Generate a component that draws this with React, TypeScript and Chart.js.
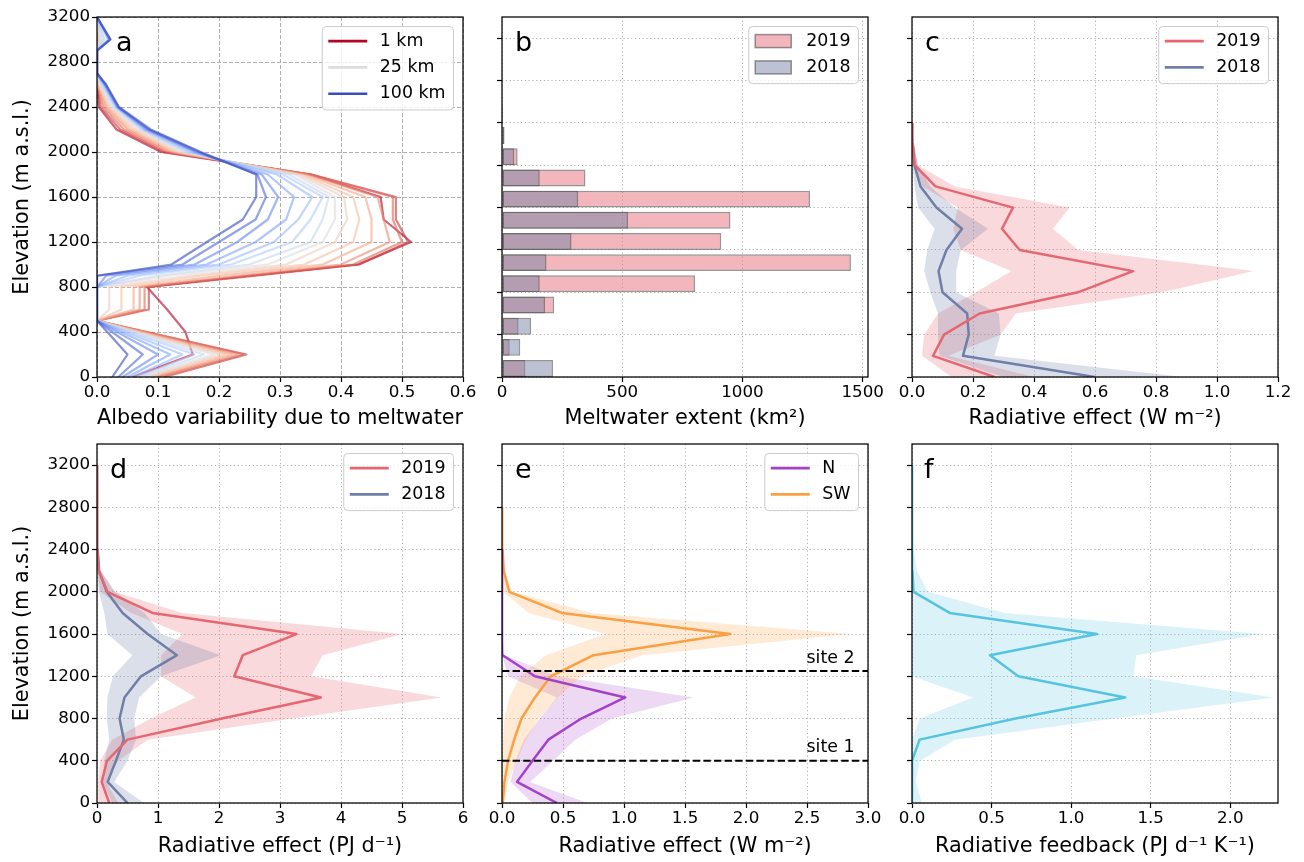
import React, { useEffect, useRef } from 'react';
import { Chart, registerables } from 'chart.js';

Chart.register(...registerables);

const FAMILY = "'DejaVu Sans', 'Liberation Sans', sans-serif";
const TICK_SIZE = 16.7;
const LABEL_SIZE = 20.8;
const LEGEND_SIZE = 17.4;
const LETTER_SIZE = 27;
Chart.defaults.font.family = FAMILY;
Chart.defaults.color = '#000';

// ================= DATA =================
// Panel a: albedo variability profiles for different spatial scales
const albedoElev = [0, 200, 400, 500, 600, 800, 900, 1000, 1200, 1400, 1600, 1800, 2000, 2200, 2400, 2600, 2700, 2800, 2900, 3000, 3200];
const albedoScalesKm = [1, 2, 3, 5, 7, 10, 15, 25, 30, 40, 50, 60, 70, 85, 100];
const albedo01 = [0.058, 0.157, 0.145, 0.13, 0.115, 0.082, 0.25, 0.428, 0.515, 0.47, 0.465, 0.35, 0.105, 0.032, 0.003, 0, 0, 0, 0, 0, 0];
const albedo02 = [0.11, 0.245, 0.082, 0, 0.085, 0.085, 0.26, 0.43, 0.51, 0.49, 0.49, 0.352, 0.11, 0.038, 0.006, 0, 0, 0, 0, 0, 0];
const albedo03 = [0.1, 0.24, 0.08, 0, 0.078, 0.078, 0.25, 0.42, 0.5, 0.485, 0.485, 0.35, 0.115, 0.044, 0.01, 0, 0, 0, 0, 0, 0];
const albedo05 = [0.095, 0.23, 0.077, 0, 0.07, 0.07, 0.23, 0.4, 0.48, 0.47, 0.46, 0.345, 0.12, 0.05, 0.014, 0, 0, 0, 0, 0, 0];
const albedo07 = [0.09, 0.22, 0.073, 0, 0.06, 0.06, 0.2, 0.37, 0.45, 0.45, 0.44, 0.34, 0.125, 0.055, 0.017, 0, 0, 0, 0, 0.002, 0];
const albedo10 = [0.085, 0.21, 0.07, 0, 0.04, 0.04, 0.17, 0.34, 0.42, 0.43, 0.42, 0.335, 0.13, 0.06, 0.02, 0.002, 0, 0, 0, 0.003, 0];
const albedo15 = [0.08, 0.2, 0.067, 0, 0.02, 0.02, 0.15, 0.31, 0.39, 0.41, 0.405, 0.33, 0.135, 0.065, 0.022, 0.004, 0, 0, 0, 0.004, 0];
const albedo25 = [0.075, 0.19, 0.063, 0, 0, 0, 0.12, 0.28, 0.37, 0.39, 0.39, 0.325, 0.14, 0.07, 0.025, 0.005, 0, 0, 0, 0.005, 0];
const albedo30 = [0.07, 0.175, 0.058, 0, 0, 0, 0.1, 0.25, 0.35, 0.37, 0.38, 0.315, 0.145, 0.072, 0.028, 0.007, 0, 0, 0, 0.008, 0];
const albedo40 = [0.065, 0.16, 0.053, 0, 0, 0, 0.07, 0.22, 0.32, 0.35, 0.37, 0.305, 0.15, 0.075, 0.03, 0.009, 0, 0, 0, 0.012, 0];
const albedo50 = [0.058, 0.14, 0.047, 0, 0, 0, 0.05, 0.2, 0.29, 0.33, 0.353, 0.295, 0.155, 0.078, 0.032, 0.011, 0, 0, 0, 0.018, 0];
const albedo60 = [0.05, 0.12, 0.04, 0, 0, 0, 0.03, 0.18, 0.26, 0.31, 0.323, 0.28, 0.16, 0.08, 0.033, 0.012, 0, 0, 0, 0.02, 0];
const albedo70 = [0.042, 0.1, 0.033, 0, 0, 0, 0.015, 0.16, 0.23, 0.28, 0.297, 0.27, 0.163, 0.083, 0.034, 0.013, 0, 0, 0, 0.021, 0];
const albedo85 = [0.035, 0.075, 0.025, 0, 0, 0, 0, 0.14, 0.2, 0.26, 0.277, 0.263, 0.167, 0.085, 0.035, 0.014, 0, 0, 0, 0.022, 0];
const albedo100 = [0.025, 0.05, 0.017, 0, 0, 0, 0, 0.122, 0.18, 0.239, 0.261, 0.261, 0.17, 0.088, 0.036, 0.015, 0, 0, 0, 0.022, 0];
const albedoProfiles = [albedo01, albedo02, albedo03, albedo05, albedo07, albedo10, albedo15, albedo25, albedo30, albedo40, albedo50, albedo60, albedo70, albedo85, albedo100];

// Panel b: meltwater extent (km2) per 200 m elevation bin (bin lower edge)
const meltBinStart = [0, 200, 400, 600, 800, 1000, 1200, 1400, 1600, 1800, 2000, 2200, 2400];
const melt2019 = [97, 32, 69, 217, 803, 1451, 912, 950, 1281, 347, 65, 10, 4];
const melt2018 = [212, 76, 121, 179, 157, 185, 289, 524, 317, 157, 51, 10, 4];
const meltBinWidth = 200;
const meltBarFraction = 0.8;

// Panels c-f: profiles
const elevProfile = [0, 200, 400, 600, 800, 1000, 1200, 1400, 1600, 1800, 2000, 2200, 2400, 2600, 2800, 3000, 3200];
// c: radiative effect (W m-2)
const reW2019 = [0.271, 0.069, 0.105, 0.222, 0.544, 0.725, 0.353, 0.295, 0.331, 0.077, 0.009, 0.003, 0.001, null, null, null, null];
const reW2019Lo = [0.13, 0.033, 0.04, 0.085, 0.21, 0.326, 0.16, 0.135, 0.15, 0.035, 0.003, 0, 0, 0, 0, 0, 0];
const reW2019Hi = [0.4, 0.12, 0.29, 0.34, 0.82, 1.12, 0.545, 0.462, 0.517, 0.14, 0.02, 0.006, 0.002, 0, 0, 0, 0];
const reW2018 = [0.599, 0.167, 0.186, 0.181, 0.1, 0.087, 0.113, 0.164, 0.08, 0.028, 0.008, 0.002, 0, null, null, null, null];
const reW2018Lo = [0.3, 0.09, 0.085, 0.085, 0.06, 0.04, 0.05, 0.074, 0.02, 0.008, 0.002, 0, 0, 0, 0, 0, 0];
const reW2018Hi = [0.89, 0.27, 0.29, 0.285, 0.145, 0.145, 0.16, 0.249, 0.14, 0.06, 0.02, 0.005, 0, 0, 0, 0, 0];
// d: radiative effect (PJ d-1)
const rePJ2019 = [0.2, 0.077, 0.164, 0.5, 2.05, 3.67, 2.25, 2.39, 3.27, 0.91, 0.17, 0.03, 0.01, 0.003, 0, 0, 0];
const rePJ2019Lo = [0.02, 0.02, 0.05, 0.25, 0.88, 1.62, 1.05, 1.05, 1.4, 0.56, 0.05, 0.01, 0, 0, 0, 0, 0];
const rePJ2019Hi = [0.35, 0.15, 0.35, 0.83, 3.2, 5.65, 3.51, 3.7, 5.0, 1.4, 0.28, 0.06, 0.02, 0.005, 0, 0, 0];
const rePJ2018 = [0.5, 0.175, 0.31, 0.44, 0.37, 0.45, 0.72, 1.31, 0.83, 0.42, 0.16, 0.03, 0.01, 0.003, 0, 0, 0];
const rePJ2018Lo = [0.25, 0.09, 0.12, 0.2, 0.16, 0.17, 0.26, 0.58, 0.17, 0.12, 0.03, 0.005, 0, 0, 0, 0, 0];
const rePJ2018Hi = [0.77, 0.28, 0.5, 0.64, 0.61, 0.69, 1.05, 2.03, 1.05, 0.78, 0.3, 0.06, 0.02, 0.005, 0, 0, 0];
// e: regional radiative effect (W m-2)
const reN = [0.45, 0.123, 0.25, 0.38, 0.65, 1.01, 0.27, 0.005, 0, 0, 0, 0, 0, null, null, null, null];
const reNLo = [0.25, 0.07, 0.11, 0.18, 0.31, 0.45, 0.05, 0, 0, 0, 0, 0, 0, 0, 0, 0, 0];
const reNHi = [0.7, 0.23, 0.42, 0.6, 0.9, 1.57, 0.45, 0.02, 0, 0, 0, 0, 0, 0, 0, 0, 0];
const reSW = [0.005, 0.02, 0.05, 0.1, 0.16, 0.27, 0.4, 0.75, 1.87, 0.49, 0.06, 0.014, 0.005, 0.002, 0.001, null, null];
const reSWLo = [0, 0, 0, 0.01, 0.02, 0.06, 0.15, 0.36, 0.85, 0.22, 0.01, 0.003, 0, 0, 0, 0, 0];
const reSWHi = [0.02, 0.05, 0.12, 0.2, 0.3, 0.46, 0.65, 1.15, 2.85, 0.74, 0.08, 0.02, 0.01, 0.005, 0.002, 0, 0];
const siteElev = [400, 1250];
const siteNames = ['site 1', 'site 2'];
// f: radiative feedback (PJ d-1 K-1)
const rf = [0, 0, 0, 0.048, 0.65, 1.34, 0.668, 0.49, 1.162, 0.237, 0.01, 0.003, 0.001, 0, 0, 0, 0];
const rfLo = [0, 0, 0, 0, 0.05, 0.384, 0, 0, 0, 0, 0, 0, 0, 0, 0, 0, 0];
const rfHi = [0.063, 0.023, 0.05, 0.27, 1.27, 2.275, 1.39, 1.41, 2.2, 0.58, 0.1, 0.03, 0.01, 0.005, 0, 0, 0];

// Tick values
const elevTicks = [0, 400, 800, 1200, 1600, 2000, 2400, 2800, 3200];
const ticksA = [0, 0.1, 0.2, 0.3, 0.4, 0.5, 0.6];
const ticksB = [0, 500, 1000, 1500];
const ticksC = [0, 0.2, 0.4, 0.6, 0.8, 1.0, 1.2];
const ticksD = [0, 1, 2, 3, 4, 5, 6];
const ticksE = [0, 0.5, 1.0, 1.5, 2.0, 2.5, 3.0];
const ticksF = [0, 0.5, 1.0, 1.5, 2.0];

// ================= STYLE =================
const C2019 = [230, 103, 113];
const C2018 = [112, 127, 168];
const CN = [163, 65, 201];
const CSW = [249, 160, 66];
const CF = [86, 196, 224];
const rgba = (c: number[], a: number) => `rgba(${c[0]},${c[1]},${c[2]},${a})`;

const coolwarmStops = [[59, 76, 192], [98, 130, 234], [141, 176, 254], [184, 208, 249], [221, 221, 221], [245, 196, 173], [244, 154, 123], [222, 96, 77], [180, 4, 38]];
function coolwarm(t: number, alpha = 1) {
  const n = coolwarmStops.length - 1;
  const p = Math.max(0, Math.min(1, t)) * n;
  const i = Math.min(Math.floor(p), n - 1);
  const f = p - i;
  const c = coolwarmStops[i].map((v, k) => Math.round(v + (coolwarmStops[i + 1][k] - v) * f));
  return rgba(c, alpha);
}

function toPoints(values: (number | null)[], elev: number[]) {
  return values.map((v, i) => ({ x: v === null ? NaN : v, y: elev[i] }));
}
function bandPoints(lo: number[], hi: number[], elev: number[]) {
  return [...toPoints(lo, elev), ...toPoints(hi, elev).reverse()];
}
function lineDs(label: string, values: any[], elev: number[], color: string, width: number, order: number) {
  return {
    type: 'line', label, data: toPoints(values, elev), borderColor: color, backgroundColor: color,
    borderWidth: width, pointRadius: 0, pointHoverRadius: 0, fill: false, tension: 0, clip: 0,
    order, borderJoinStyle: 'round', spanGaps: false,
  };
}
function bandDs(label: string, lo: number[], hi: number[], elev: number[], color: string, order: number) {
  return {
    type: 'line', label, data: bandPoints(lo, hi, elev), borderColor: 'rgba(0,0,0,0)', borderWidth: 0,
    backgroundColor: color, pointRadius: 0, pointHoverRadius: 0, fill: 'shape', tension: 0, clip: 0, order,
  };
}

// ================= PANELS =================
const PAD_T = 12;
const PAD_R = 24;
const PAD_B = 57;

type LegendEntry = { label: string; color: string; kind: 'line' | 'patch'; edge?: string };

const panelA = {
  key: 'a', frame: [97, 17, 463, 377], padL: 97, letter: 'a', letterDx: 19,
  xMax: 0.6, xTicks: ticksA, xDigits: 1, xTitle: 'Albedo variability due to meltwater', titleY: 419,
  yMax: 3200, yLabels: true, yTitle: 'Elevation (m a.s.l.)', gridDash: [4, 2],
  chartType: 'line',
  datasets: albedoProfiles.map((p, i) => lineDs(`${albedoScalesKm[i]} km`, p, albedoElev,
    coolwarm(1 - i / (albedoProfiles.length - 1), 0.62), 2.2, albedoProfiles.length - i)),
  legend: [
    { label: '1 km', color: coolwarm(1), kind: 'line' },
    { label: '25 km', color: coolwarm(0.5), kind: 'line' },
    { label: '100 km', color: coolwarm(0), kind: 'line' },
  ] as LegendEntry[],
};

const panelB = {
  key: 'b', frame: [502, 17, 868, 377], padL: 32, letter: 'b', letterDx: 13,
  xMax: 1522, xTicks: ticksB, xDigits: 0, xTitle: 'Meltwater extent (km²)', titleY: 419,
  yMax: 3400, yLabels: false, gridDash: [1.2, 2.6],
  chartType: 'bar', indexAxis: 'y',
  datasets: [
    {
      label: '2018', data: melt2018.map((v, i) => ({ x: v, y: meltBinStart[i] + meltBinWidth * meltBarFraction / 2 })),
      backgroundColor: rgba([122, 134, 168], 0.5), borderColor: 'rgba(80,80,80,0.6)', borderWidth: 1.5,
      borderSkipped: false, grouped: false, barPercentage: meltBarFraction, categoryPercentage: 1, order: 0,
    },
    {
      label: '2019', data: melt2019.map((v, i) => ({ x: v, y: meltBinStart[i] + meltBinWidth * meltBarFraction / 2 })),
      backgroundColor: rgba([230, 110, 122], 0.5), borderColor: 'rgba(80,80,80,0.6)', borderWidth: 1.5,
      borderSkipped: false, grouped: false, barPercentage: meltBarFraction, categoryPercentage: 1, order: 1,
    },
  ],
  legend: [
    { label: '2019', color: rgba([230, 110, 122], 0.5), kind: 'patch', edge: 'rgba(80,80,80,0.6)' },
    { label: '2018', color: rgba([122, 134, 168], 0.5), kind: 'patch', edge: 'rgba(80,80,80,0.6)' },
  ] as LegendEntry[],
};

const panelC = {
  key: 'c', frame: [912, 17, 1278, 377], padL: 32, letter: 'c', letterDx: 13,
  xMax: 1.2, xTicks: ticksC, xDigits: 1, xTitle: 'Radiative effect (W m⁻²)', titleY: 419,
  yMax: 3400, yLabels: false, gridDash: [1.2, 2.6],
  chartType: 'line',
  datasets: [
    lineDs('2019', reW2019, elevProfile, rgba(C2019, 1), 2.5, 0),
    lineDs('2018', reW2018, elevProfile, rgba(C2018, 1), 2.5, 1),
    bandDs('2018 range', reW2018Lo, reW2018Hi, elevProfile, rgba(C2018, 0.25), 2),
    bandDs('2019 range', reW2019Lo, reW2019Hi, elevProfile, rgba(C2019, 0.25), 3),
  ],
  legend: [
    { label: '2019', color: rgba(C2019, 1), kind: 'line' },
    { label: '2018', color: rgba(C2018, 1), kind: 'line' },
  ] as LegendEntry[],
};

const panelD = {
  key: 'd', frame: [97, 444, 463, 803], padL: 97, letter: 'd', letterDx: 13,
  xMax: 6, xTicks: ticksD, xDigits: 0, xTitle: 'Radiative effect (PJ d⁻¹)', titleY: 847,
  yMax: 3400, yLabels: true, yTitle: 'Elevation (m a.s.l.)', gridDash: [1.2, 2.6],
  chartType: 'line',
  datasets: [
    lineDs('2019', rePJ2019, elevProfile, rgba(C2019, 1), 2.5, 0),
    lineDs('2018', rePJ2018, elevProfile, rgba(C2018, 1), 2.5, 1),
    bandDs('2018 range', rePJ2018Lo, rePJ2018Hi, elevProfile, rgba(C2018, 0.25), 2),
    bandDs('2019 range', rePJ2019Lo, rePJ2019Hi, elevProfile, rgba(C2019, 0.25), 3),
  ],
  legend: [
    { label: '2019', color: rgba(C2019, 1), kind: 'line' },
    { label: '2018', color: rgba(C2018, 1), kind: 'line' },
  ] as LegendEntry[],
};

const panelE = {
  key: 'e', frame: [502, 444, 868, 803], padL: 32, letter: 'e', letterDx: 13,
  xMax: 3.0, xTicks: ticksE, xDigits: 1, xTitle: 'Radiative effect (W m⁻²)', titleY: 847,
  yMax: 3400, yLabels: false, gridDash: [1.2, 2.6],
  chartType: 'line',
  datasets: [
    ...siteElev.map((e, i) => ({
      type: 'line', label: siteNames[i], data: [{ x: 0, y: e }, { x: 3.0, y: e }], borderColor: '#000',
      borderWidth: 2, borderDash: [7.4, 3.2], pointRadius: 0, fill: false, clip: 0, order: -1,
    })),
    lineDs('N', reN, elevProfile, rgba(CN, 1), 2.5, 0),
    lineDs('SW', reSW, elevProfile, rgba(CSW, 1), 2.5, 1),
    bandDs('SW range', reSWLo, reSWHi, elevProfile, rgba(CSW, 0.22), 2),
    bandDs('N range', reNLo, reNHi, elevProfile, rgba(CN, 0.2), 3),
  ],
  sites: siteElev.map((e, i) => ({ elev: e, label: siteNames[i] })),
  legend: [
    { label: 'N', color: rgba(CN, 1), kind: 'line' },
    { label: 'SW', color: rgba(CSW, 1), kind: 'line' },
  ] as LegendEntry[],
};

const panelF = {
  key: 'f', frame: [912, 444, 1278, 803], padL: 32, letter: 'f', letterDx: 12,
  xMax: 2.3, xTicks: ticksF, xDigits: 1, xTitle: 'Radiative feedback (PJ d⁻¹ K⁻¹)', titleY: 847,
  yMax: 3400, yLabels: false, gridDash: [1.2, 2.6],
  chartType: 'line',
  datasets: [
    lineDs('feedback', rf, elevProfile, rgba(CF, 1), 2.5, 0),
    bandDs('feedback range', rfLo, rfHi, elevProfile, rgba(CF, 0.22), 1),
  ],
};

const panels: any[] = [panelA, panelB, panelC, panelD, panelE, panelF];

// ================= DECORATION PLUGIN =================
function decorPlugin(s: any) {
  return {
    id: 'decor_' + s.key,
    afterDatasetsDraw(chart: any) {
      const ctx = chart.ctx;
      const a = chart.chartArea;
      ctx.save();
      ctx.strokeStyle = '#000';
      ctx.lineWidth = 1.25;
      ctx.setLineDash([]);
      ctx.strokeRect(a.left, a.top, a.right - a.left, a.bottom - a.top);

      if (s.sites) {
        ctx.font = `${LEGEND_SIZE}px ${FAMILY}`;
        ctx.fillStyle = '#000';
        ctx.textAlign = 'right';
        ctx.textBaseline = 'alphabetic';
        for (const site of s.sites) {
          const y = chart.scales.y.getPixelForValue(site.elev);
          ctx.fillText(site.label, a.right - 13.5, y - 8.5);
        }
      }

      ctx.font = `${LETTER_SIZE}px ${FAMILY}`;
      ctx.fillStyle = '#000';
      ctx.textAlign = 'left';
      ctx.textBaseline = 'alphabetic';
      ctx.fillText(s.letter, a.left + s.letterDx, a.top + 33.5);

      if (s.legend) {
        ctx.font = `${LEGEND_SIZE}px ${FAMILY}`;
        const textW = Math.max(...s.legend.map((e: LegendEntry) => ctx.measureText(e.label).width));
        const rowH = 26.3;
        const boxW = 57.5 + textW + 8;
        const boxH = s.legend.length * rowH + 4.5;
        const bx = a.right - 9.5 - boxW;
        const by = a.top + 9.5;
        ctx.beginPath();
        if (ctx.roundRect) ctx.roundRect(bx, by, boxW, boxH, 4);
        else ctx.rect(bx, by, boxW, boxH);
        ctx.fillStyle = 'rgba(255,255,255,0.8)';
        ctx.fill();
        ctx.strokeStyle = '#cccccc';
        ctx.lineWidth = 1;
        ctx.stroke();
        s.legend.forEach((e: LegendEntry, i: number) => {
          const cy = by + 14.6 + i * rowH;
          if (e.kind === 'line') {
            ctx.beginPath();
            ctx.strokeStyle = e.color;
            ctx.lineWidth = 2.6;
            ctx.moveTo(bx + 6, cy);
            ctx.lineTo(bx + 45, cy);
            ctx.stroke();
          } else {
            ctx.fillStyle = e.color;
            ctx.fillRect(bx + 6.5, cy - 6.5, 36, 13);
            ctx.strokeStyle = e.edge || '#666';
            ctx.lineWidth = 1.5;
            ctx.strokeRect(bx + 6.5, cy - 6.5, 36, 13);
          }
          ctx.fillStyle = '#000';
          ctx.textAlign = 'left';
          ctx.textBaseline = 'middle';
          ctx.fillText(e.label, bx + 57.5, cy);
        });
      }
      ctx.restore();
    },
  };
}

// ================= CONFIG =================
function buildConfig(s: any) {
  const [, , , B] = s.frame;
  const lh = LABEL_SIZE * 1.2;
  const titlePadBottom = B + PAD_B - lh / 2 - s.titleY;
  const gridCommon = {
    color: '#b0b0b0', lineWidth: 1, drawTicks: true, tickLength: 5, tickWidth: 1.2, tickColor: '#000',
    drawOnChartArea: true, offset: false,
  };
  return {
    type: s.chartType,
    data: { datasets: s.datasets },
    options: {
      animation: false,
      responsive: false,
      events: [],
      indexAxis: s.indexAxis || 'x',
      layout: { padding: { top: PAD_T, right: PAD_R, left: 0, bottom: 0 } },
      plugins: { legend: { display: false }, tooltip: { enabled: false }, title: { display: false } },
      scales: {
        x: {
          type: 'linear', min: 0, max: s.xMax, offset: false,
          ticks: {
            autoSkip: false, maxRotation: 0, minRotation: 0,
            padding: 1, color: '#000', font: { size: TICK_SIZE, family: FAMILY },
            callback: (v: number) => Number(v).toFixed(s.xDigits),
          },
          afterBuildTicks: (scale: any) => { scale.ticks = s.xTicks.map((v: number) => ({ value: v })); },
          grid: gridCommon,
          border: { display: false, dash: s.gridDash },
          title: {
            display: true, text: s.xTitle, color: '#000', font: { size: LABEL_SIZE, family: FAMILY, lineHeight: 1.2 },
            padding: { top: 0, bottom: titlePadBottom },
          },
          afterFit: (scale: any) => { scale.height = PAD_B; },
        },
        y: {
          type: 'linear', min: 0, max: s.yMax, offset: false,
          ticks: {
            display: s.yLabels, autoSkip: false, padding: 2, color: '#000',
            font: { size: TICK_SIZE, family: FAMILY },
            callback: (v: number) => String(v),
          },
          afterBuildTicks: (scale: any) => { scale.ticks = elevTicks.map((v) => ({ value: v })); },
          grid: gridCommon,
          border: { display: false, dash: s.gridDash },
          title: s.yTitle ? {
            display: true, text: s.yTitle, color: '#000', font: { size: LABEL_SIZE, family: FAMILY, lineHeight: 1.2 },
            padding: { top: 10, bottom: 0 },
          } : { display: false },
          afterFit: (scale: any) => { scale.width = s.padL; },
        },
      },
    },
    plugins: [decorPlugin(s)],
  };
}

function PanelCanvas({ spec }: { spec: any }) {
  const ref = useRef<HTMLCanvasElement | null>(null);
  const [L, T, R, B] = spec.frame;
  const w = spec.padL + (R - L) + PAD_R;
  const h = PAD_T + (B - T) + PAD_B;
  useEffect(() => {
    if (!ref.current) return;
    const chart = new Chart(ref.current, buildConfig(spec) as any);
    return () => chart.destroy();
  }, [spec]);
  return (
    <canvas
      ref={ref}
      width={w}
      height={h}
      style={{ position: 'absolute', left: L - spec.padL, top: T - PAD_T, width: w, height: h }}
    />
  );
}

export default function App() {
  return (
    <div style={{ position: 'absolute', left: 0, top: 0, width: 1304, height: 862, background: '#fff', overflow: 'hidden' }}>
      {panels.map((p) => (
        <PanelCanvas key={p.key} spec={p} />
      ))}
    </div>
  );
}
